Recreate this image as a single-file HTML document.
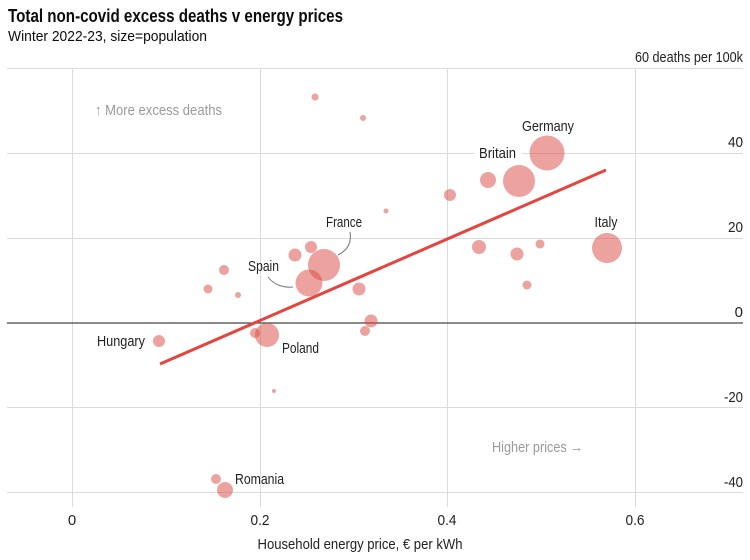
<!DOCTYPE html>
<html><head><meta charset="utf-8"><style>
html,body{margin:0;padding:0;background:#fff;}
svg{display:block;font-family:"Liberation Sans",sans-serif;}
</style></head><body>
<svg width="750" height="560" viewBox="0 0 750 560" xmlns="http://www.w3.org/2000/svg">
<rect width="750" height="560" fill="#fff"/>
<text x="8" y="22" font-size="18" font-weight="bold" fill="#0d0d0d" textLength="335" lengthAdjust="spacingAndGlyphs">Total non-covid excess deaths v energy prices</text>
<text x="8" y="41" font-size="15" fill="#0d0d0d" textLength="199" lengthAdjust="spacingAndGlyphs">Winter 2022-23, size=population</text>
<g stroke="#dcdcdc" stroke-width="1">
<line x1="7" y1="68.5" x2="743" y2="68.5"/>
<line x1="7" y1="153.5" x2="743" y2="153.5"/>
<line x1="7" y1="238.5" x2="743" y2="238.5"/>
<line x1="7" y1="407.5" x2="743" y2="407.5"/>
<line x1="7" y1="492.5" x2="743" y2="492.5"/>
<line x1="72.5" y1="68" x2="72.5" y2="507"/>
<line x1="260.5" y1="68" x2="260.5" y2="507"/>
<line x1="447.5" y1="68" x2="447.5" y2="507"/>
<line x1="635.5" y1="68" x2="635.5" y2="507"/>
</g>
<line x1="7" y1="323" x2="743" y2="323" stroke="#444" stroke-width="1.2"/>
<g font-size="15" fill="#9a9a9a">
<text x="95" y="115" textLength="127" lengthAdjust="spacingAndGlyphs">↑ More excess deaths</text>
<text x="492" y="452" textLength="91" lengthAdjust="spacingAndGlyphs">Higher prices →</text>
</g>
<g font-size="15" fill="#222" text-anchor="end">
<text x="743" y="62" textLength="108" lengthAdjust="spacingAndGlyphs">60 deaths per 100k</text>
<text x="743" y="147" textLength="15" lengthAdjust="spacingAndGlyphs">40</text>
<text x="743" y="232" textLength="15" lengthAdjust="spacingAndGlyphs">20</text>
<text x="743" y="317">0</text>
<text x="743" y="402" textLength="19" lengthAdjust="spacingAndGlyphs">-20</text>
<text x="743" y="487" textLength="19" lengthAdjust="spacingAndGlyphs">-40</text>
</g>
<g font-size="15" fill="#222" text-anchor="middle">
<text x="72" y="525">0</text>
<text x="260" y="525" textLength="19" lengthAdjust="spacingAndGlyphs">0.2</text>
<text x="447" y="525" textLength="19" lengthAdjust="spacingAndGlyphs">0.4</text>
<text x="635" y="525" textLength="19" lengthAdjust="spacingAndGlyphs">0.6</text>
<text x="360" y="549" textLength="205" lengthAdjust="spacingAndGlyphs">Household energy price, € per kWh</text>
</g>
<rect x="475" y="145" width="47" height="16" fill="#fff"/>
<g fill="#d9453f" fill-opacity="0.5">
<circle cx="315" cy="97" r="3.5"/>
<circle cx="363" cy="118" r="3"/>
<circle cx="386" cy="211" r="2.5"/>
<circle cx="450" cy="195" r="6"/>
<circle cx="488" cy="180" r="8"/>
<circle cx="519" cy="181" r="16"/>
<circle cx="547" cy="153" r="17.5"/>
<circle cx="607" cy="248" r="15"/>
<circle cx="479" cy="247" r="7"/>
<circle cx="517" cy="254" r="6.5"/>
<circle cx="540" cy="244" r="4.5"/>
<circle cx="527" cy="285" r="4.5"/>
<circle cx="295" cy="255" r="6.5"/>
<circle cx="311" cy="247" r="6"/>
<circle cx="324" cy="265" r="16"/>
<circle cx="309" cy="283" r="13.5"/>
<circle cx="224" cy="270" r="5"/>
<circle cx="208" cy="289" r="4.5"/>
<circle cx="238" cy="295" r="3"/>
<circle cx="359" cy="289" r="6.5"/>
<circle cx="371" cy="321" r="6.5"/>
<circle cx="365" cy="331" r="5"/>
<circle cx="159" cy="341" r="6"/>
<circle cx="255" cy="333" r="5"/>
<circle cx="267" cy="335" r="12"/>
<circle cx="274" cy="391" r="2"/>
<circle cx="216" cy="479" r="5"/>
<circle cx="225" cy="490" r="8"/>
</g>
<line x1="160" y1="364" x2="606" y2="170" stroke="#e3463f" stroke-width="3" stroke-linecap="butt"/>
<g fill="none" stroke="#777" stroke-width="1">
<path d="M350 232 C352 244 346 251 338 255"/>
<path d="M268 277 C274 285 284 288 293 287"/>
</g>
<g font-size="15" fill="#222">
<text x="548" y="131" text-anchor="middle" textLength="52" lengthAdjust="spacingAndGlyphs">Germany</text>
<text x="479" y="158" textLength="37" lengthAdjust="spacingAndGlyphs">Britain</text>
<text x="606" y="227" text-anchor="middle" textLength="23" lengthAdjust="spacingAndGlyphs">Italy</text>
<text x="326" y="227" textLength="36" lengthAdjust="spacingAndGlyphs">France</text>
<text x="248" y="271" textLength="31" lengthAdjust="spacingAndGlyphs">Spain</text>
<text x="97" y="346" textLength="48" lengthAdjust="spacingAndGlyphs">Hungary</text>
<text x="282" y="353" textLength="37" lengthAdjust="spacingAndGlyphs">Poland</text>
<text x="235" y="484" textLength="49" lengthAdjust="spacingAndGlyphs">Romania</text>
</g>
</svg>
</body></html>
